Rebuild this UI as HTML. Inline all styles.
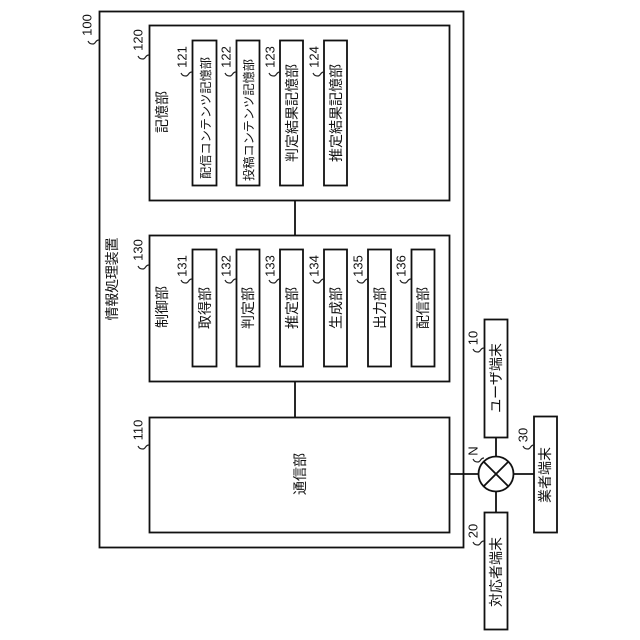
<!DOCTYPE html>
<html><head><meta charset="utf-8">
<style>
html,body{margin:0;padding:0;background:#fff}
svg{display:block}
rect,.l{fill:none;stroke:#111;stroke-width:1.8}
rect{fill:#fff}
.s{fill:none;stroke:#222;stroke-width:1.2}
text{fill:#111;text-anchor:middle;dominant-baseline:central}
.j{font-family:"Noto Sans CJK JP","IPAGothic",sans-serif;font-size:14px}
.n{font-family:"Liberation Sans",sans-serif;font-size:13px}
</style></head><body>
<svg width="640" height="640" viewBox="0 0 640 640" xmlns="http://www.w3.org/2000/svg">
<rect x="99.5" y="11.5" width="364" height="536"/>
<path class="l" d="M295 200V235M295 381V417M449 474H534M496 437V512"/>
<rect x="149.5" y="25.5" width="300" height="175"/>
<rect x="149.5" y="235.5" width="300" height="146"/>
<rect x="149.5" y="417.5" width="300" height="115"/>

<rect x="192.5" y="40.5" width="24" height="145"/>
<rect x="236.5" y="40.5" width="23" height="145"/>
<rect x="280" y="40.5" width="23" height="145"/>
<rect x="324" y="40.5" width="23" height="145"/>

<rect x="192.5" y="249.5" width="24" height="117"/>
<rect x="236.5" y="249.5" width="23" height="117"/>
<rect x="280" y="249.5" width="23" height="117"/>
<rect x="324" y="249.5" width="23" height="117"/>
<rect x="368" y="249.5" width="23" height="117"/>
<rect x="411.5" y="249.5" width="23" height="117"/>

<rect x="484.5" y="319.5" width="23" height="118"/>
<rect x="484.5" y="512.5" width="23" height="117"/>
<rect x="534" y="416.5" width="23" height="116"/>
<circle cx="496" cy="474" r="17.5" fill="#fff" stroke="#111" stroke-width="1.8"/>
<path class="l" d="M483.6 461.6L508.4 486.4M508.4 461.6L483.6 486.4"/>

<text class="j" transform="translate(112,279) rotate(-90)" textLength="83">情報処理装置</text>
<text class="j" transform="translate(162,112) rotate(-90)">記憶部</text>
<text class="j" transform="translate(162,307) rotate(-90)">制御部</text>
<text class="j" transform="translate(300,474) rotate(-90)">通信部</text>

<text class="j" style="font-size:12.2px" transform="translate(205,118) rotate(-90)">配信コンテンツ記憶部</text>
<text class="j" style="font-size:12.2px" transform="translate(248,120) rotate(-90)">投稿コンテンツ記憶部</text>
<text class="j" transform="translate(292,113) rotate(-90)">判定結果記憶部</text>
<text class="j" transform="translate(336,113) rotate(-90)">推定結果記憶部</text>

<text class="j" transform="translate(205,308) rotate(-90)">取得部</text>
<text class="j" transform="translate(248,308) rotate(-90)">判定部</text>
<text class="j" transform="translate(292,308) rotate(-90)">推定部</text>
<text class="j" transform="translate(336,308) rotate(-90)">生成部</text>
<text class="j" transform="translate(380,308) rotate(-90)">出力部</text>
<text class="j" transform="translate(423,308) rotate(-90)">配信部</text>

<text class="j" transform="translate(496,378) rotate(-90)">ユーザ端末</text>
<text class="j" transform="translate(496,572) rotate(-90)">対応者端末</text>
<text class="j" transform="translate(545,475) rotate(-90)">業者端末</text>

<text class="n" transform="translate(87,25) rotate(-90)">100</text>
<text class="n" transform="translate(138,40) rotate(-90)">120</text>
<text class="n" transform="translate(138,250) rotate(-90)">130</text>
<text class="n" transform="translate(138,430) rotate(-90)">110</text>
<text class="n" transform="translate(182,57) rotate(-90)">121</text>
<text class="n" transform="translate(226,57) rotate(-90)">122</text>
<text class="n" transform="translate(270,57) rotate(-90)">123</text>
<text class="n" transform="translate(314,57) rotate(-90)">124</text>
<text class="n" transform="translate(182,266) rotate(-90)">131</text>
<text class="n" transform="translate(226,266) rotate(-90)">132</text>
<text class="n" transform="translate(270,266) rotate(-90)">133</text>
<text class="n" transform="translate(314,266) rotate(-90)">134</text>
<text class="n" transform="translate(358,266) rotate(-90)">135</text>
<text class="n" transform="translate(401,266) rotate(-90)">136</text>
<text class="n" transform="translate(473,338) rotate(-90)">10</text>
<text class="n" transform="translate(473,531) rotate(-90)">20</text>
<text class="n" transform="translate(523,435) rotate(-90)">30</text>
<text class="n" transform="translate(473,451) rotate(-90)">N</text>

<path class="s" d="M99 40c-4 0-3 4-6 4c-3 0-4-1-5-3
M149 55c-4 0-3 4-6 4c-3 0-4-1-5-3
M149 265c-4 0-3 4-6 4c-3 0-4-1-5-3
M149 445c-4 0-3 4-6 4c-3 0-4-1-5-3
M192 72c-4 0-3 4-6 4c-3 0-4-1-5-3
M236 72c-4 0-3 4-6 4c-3 0-4-1-5-3
M280 72c-4 0-3 4-6 4c-3 0-4-1-5-3
M324 72c-4 0-3 4-6 4c-3 0-4-1-5-3
M192 279c-4 0-3 4-6 4c-3 0-4-1-5-3
M236 279c-4 0-3 4-6 4c-3 0-4-1-5-3
M280 279c-4 0-3 4-6 4c-3 0-4-1-5-3
M324 279c-4 0-3 4-6 4c-3 0-4-1-5-3
M368 279c-4 0-3 4-6 4c-3 0-4-1-5-3
M411 279c-4 0-3 4-6 4c-3 0-4-1-5-3
M484 348c-4 0-3 4-6 4c-3 0-4-1-5-3
M484 541c-4 0-3 4-6 4c-3 0-4-1-5-3
M534 445c-4 0-3 4-6 4c-3 0-4-1-5-3
M484 458c-4 0-3 4-6 4c-3 0-4-1-5-3"/>
</svg>
</body></html>
